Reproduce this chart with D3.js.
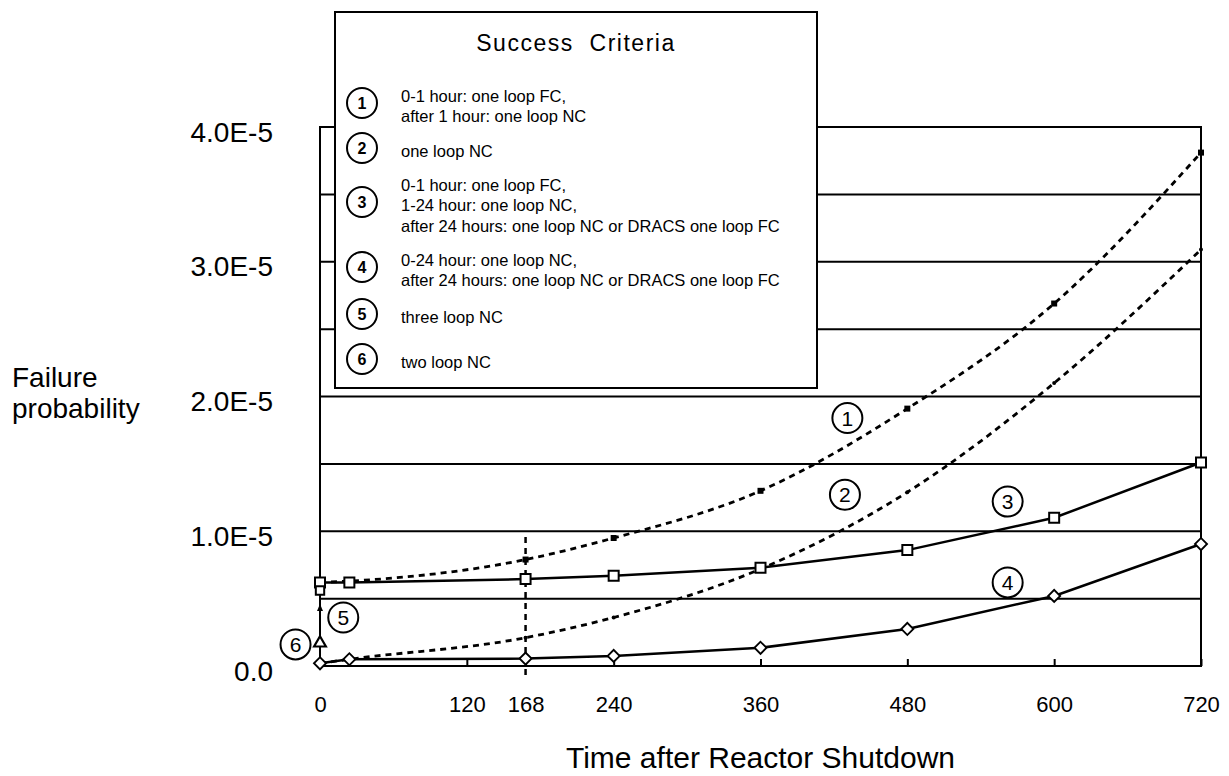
<!DOCTYPE html>
<html>
<head>
<meta charset="utf-8">
<script src="https://cdn.jsdelivr.net/npm/d3@7/dist/d3.min.js"></script>
<style>
  html, body { margin: 0; padding: 0; background: #fff; }
  svg { display: block; }
  text { font-family: "Liberation Sans", Arial, Helvetica, sans-serif; fill: #000; }
</style>
</head>
<body>
<svg id="chart" width="1229" height="776"></svg>
<script>
// ---------------- DATA ----------------
const hours = [0, 24, 168, 240, 360, 480, 600, 720];
const series1 = [6.2e-6, 6.3e-6, 7.9e-6, 9.5e-6, 1.3e-5, 1.91e-5, 2.69e-5, 3.81e-5]; // one loop FC -> NC
const series2 = [2.0e-7, 5.0e-7, 2.1e-6, 3.6e-6, 7.2e-6, 1.29e-5, 2.1e-5, 3.09e-5];  // one loop NC
const series3 = [6.2e-6, 6.2e-6, 6.45e-6, 6.7e-6, 7.3e-6, 8.6e-6, 1.1e-5, 1.51e-5]; // FC/NC/DRACS
const series4 = [2.0e-7, 5.0e-7, 5.5e-7, 7.5e-7, 1.35e-6, 2.75e-6, 5.2e-6, 9.05e-6]; // NC/DRACS
const series5 = [{ t: 0, p: 4.3e-6 }];   // three loop NC (arrow)
const series6 = [{ t: 0, p: 1.7e-6 }];   // two loop NC (triangle)
const extraSquare = [{ t: 0, p: 5.6e-6 }];

const xTicks = [0, 120, 168, 240, 360, 480, 600, 720];
const yTicks = [0, 1e-5, 2e-5, 3e-5, 4e-5];
const yTickLabels = ["0.0", "1.0E-5", "2.0E-5", "3.0E-5", "4.0E-5"];
const gridValues = [0.5e-5, 1e-5, 1.5e-5, 2e-5, 2.5e-5, 3e-5, 3.5e-5, 4e-5];
const markerHour = 168;

const legendTitle = "Success Criteria";
const legendNums = ["1", "2", "3", "4", "5", "6"];
const legendTexts = [
  ["0-1 hour: one loop FC,", "after 1 hour: one loop NC"],
  ["one loop NC"],
  ["0-1 hour: one loop FC,", "1-24 hour: one loop NC,", "after 24 hours: one loop NC or DRACS one loop FC"],
  ["0-24 hour: one loop NC,", "after 24 hours: one loop NC or DRACS one loop FC"],
  ["three loop NC"],
  ["two loop NC"]
];
// curve labels: [number, hour, probability] anchor in data space
const curveLabels = [
  ["1", 431, 1.84e-5],
  ["2", 429, 1.27e-5],
  ["3", 562, 1.22e-5],
  ["4", 562, 6.2e-6],
  ["5", 19, 3.6e-6],
  ["6", -20, 1.6e-6]
];
const xTitle = "Time after Reactor Shutdown";
const yTitle = ["Failure", "probability"];

// ---------------- LAYOUT ----------------
const svg = d3.select("#chart");
const L = 320, R = 1201, T = 127, B = 666;
const x = d3.scaleLinear().domain([0, 720]).range([L, R]);
const y = d3.scaleLinear().domain([0, 4e-5]).range([B, T]);
const SW = 2;

svg.append("rect").attr("width", 1229).attr("height", 776).attr("fill", "#fff");

// grid lines
svg.append("g").selectAll("line").data(gridValues).join("line")
  .attr("x1", L).attr("x2", R)
  .attr("y1", d => y(d)).attr("y2", d => y(d))
  .attr("stroke", "#000").attr("stroke-width", SW);

// frame
svg.append("rect").attr("x", L).attr("y", T).attr("width", R - L).attr("height", B - T)
  .attr("fill", "none").attr("stroke", "#000").attr("stroke-width", SW);

// x axis
const xAxis = svg.append("g").attr("transform", `translate(0,${B})`)
  .call(d3.axisBottom(x).tickValues(xTicks).tickSizeInner(-7).tickSizeOuter(0).tickPadding(30).tickFormat(d3.format("d")));
xAxis.select(".domain").remove();
xAxis.selectAll("line").attr("stroke", "#000").attr("stroke-width", SW);
xAxis.selectAll("text").attr("font-size", 22).attr("font-family", "Liberation Sans, Arial, sans-serif").attr("fill", "#000");

// y axis labels
const yAxis = svg.append("g").attr("transform", `translate(${L},0)`)
  .call(d3.axisLeft(y).tickValues(yTicks).tickSize(0).tickPadding(47).tickFormat((d, i) => yTickLabels[i]));
yAxis.select(".domain").remove();
yAxis.selectAll("text").attr("font-size", 28).attr("dy", "0.5em")
  .attr("font-family", "Liberation Sans, Arial, sans-serif").attr("fill", "#000");

// axis titles
svg.append("text").attr("x", (L + R) / 2).attr("y", 768).attr("text-anchor", "middle")
  .attr("font-size", 30).text(xTitle);
svg.append("g").selectAll("text").data(yTitle).join("text")
  .attr("x", 12).attr("y", (d, i) => 387 + i * 31).attr("font-size", 28).text(d => d);

// vertical dashed marker at 168 h
svg.append("line").attr("x1", x(markerHour)).attr("x2", x(markerHour))
  .attr("y1", y(0) + 9).attr("y2", y(1e-5))
  .attr("stroke", "#000").attr("stroke-width", 2.5).attr("stroke-dasharray", "6,5");

// ---------------- LINES ----------------
const pts = s => hours.map((h, i) => [h, s[i]]);
const lineCurve = d3.line().x(d => x(d[0])).y(d => y(d[1])).curve(d3.curveMonotoneX);
const lineStraight = d3.line().x(d => x(d[0])).y(d => y(d[1]));

svg.append("path").attr("d", lineCurve(pts(series1))).attr("fill", "none")
  .attr("stroke", "#000").attr("stroke-width", 2.8).attr("stroke-dasharray", "6,5");
svg.append("path").attr("d", lineCurve(pts(series2))).attr("fill", "none")
  .attr("stroke", "#000").attr("stroke-width", 2.8).attr("stroke-dasharray", "6,5");
svg.append("path").attr("d", lineStraight(pts(series3))).attr("fill", "none")
  .attr("stroke", "#000").attr("stroke-width", 2.5);
svg.append("path").attr("d", lineStraight(pts(series4))).attr("fill", "none")
  .attr("stroke", "#000").attr("stroke-width", 2.5);

// ---------------- MARKERS ----------------
const sq = d3.symbol().type(d3.symbolSquare).size(100);
const tri = d3.symbol().type(d3.symbolTriangle).size(60);

// series 1: small filled squares
svg.append("g").selectAll("path").data(pts(series1).slice(2)).join("path")
  .attr("transform", d => `translate(${x(d[0])},${y(d[1])})`)
  .attr("d", d3.symbol().type(d3.symbolSquare).size(36)).attr("fill", "#000");
// series 2: tiny dots
svg.append("g").selectAll("circle").data(pts(series2).slice(2)).join("circle")
  .attr("cx", d => x(d[0])).attr("cy", d => y(d[1])).attr("r", 2).attr("fill", "#000");
// series 3: open squares
svg.append("g").selectAll("path").data(pts(series3)).join("path")
  .attr("transform", d => `translate(${x(d[0])},${y(d[1])})`)
  .attr("d", sq).attr("fill", "#fff").attr("stroke", "#000").attr("stroke-width", 2);
svg.append("g").selectAll("path").data(extraSquare).join("path")
  .attr("transform", d => `translate(${x(d.t)},${y(d.p)})`)
  .attr("d", d3.symbol().type(d3.symbolSquare).size(70)).attr("fill", "#fff").attr("stroke", "#000").attr("stroke-width", 2);
// series 4: open diamonds
svg.append("g").selectAll("path").data(pts(series4)).join("path")
  .attr("transform", d => `translate(${x(d[0])},${y(d[1])}) rotate(45) scale(0.85)`)
  .attr("d", sq).attr("fill", "#fff").attr("stroke", "#000").attr("stroke-width", 2.2);
// series 5: arrowhead on the axis
svg.append("g").selectAll("path").data(series5).join("path")
  .attr("transform", d => `translate(${x(d.t)},${y(d.p)})`)
  .attr("d", "M0,-4 L-3,3 L3,3 Z").attr("fill", "#000");
// series 6: open triangle
svg.append("g").selectAll("path").data(series6).join("path")
  .attr("transform", d => `translate(${x(d.t)},${y(d.p)})`)
  .attr("d", tri).attr("fill", "#fff").attr("stroke", "#000").attr("stroke-width", 2.2);

// curve number labels
const cl = svg.append("g").selectAll("g").data(curveLabels).join("g")
  .attr("transform", d => `translate(${x(d[1])},${y(d[2])})`);
cl.append("circle").attr("r", 15).attr("fill", "#fff").attr("stroke", "#000").attr("stroke-width", 2);
cl.append("text").attr("text-anchor", "middle").attr("dy", "0.36em").attr("font-size", 21).text(d => d[0]);

// ---------------- LEGEND ----------------
const LX = 335, LY = 12, LW = 482, LH = 376;
const legendY = [103, 148, 202, 267, 314, 359];
const lg = svg.append("g");
lg.append("rect").attr("x", LX).attr("y", LY).attr("width", LW).attr("height", LH)
  .attr("fill", "#fff").attr("stroke", "#000").attr("stroke-width", SW);
lg.append("text").attr("x", 576).attr("y", 51).attr("text-anchor", "middle")
  .attr("font-size", 23).attr("letter-spacing", 1.5).attr("word-spacing", 8).text(legendTitle);
const items = lg.selectAll("g.item").data(legendNums).join("g").attr("class", "item");
items.append("circle").attr("cx", 362).attr("cy", (d, i) => legendY[i]).attr("r", 15)
  .attr("fill", "#fff").attr("stroke", "#000").attr("stroke-width", 2);
items.append("text").attr("x", 362).attr("y", (d, i) => legendY[i]).attr("dy", "0.36em")
  .attr("text-anchor", "middle").attr("font-size", 16).attr("font-weight", "bold").text(d => d);
items.each(function (d, i) {
  const lines = legendTexts[i];
  d3.select(this).selectAll("text.t").data(lines).join("text").attr("class", "t")
    .attr("x", 401)
    .attr("y", (s, j) => legendY[i] + 3 - (lines.length - 1) * 10.25 + j * 20.5 + 6)
    .attr("font-size", 16.5).text(s => s);
});
</script>
</body>
</html>
